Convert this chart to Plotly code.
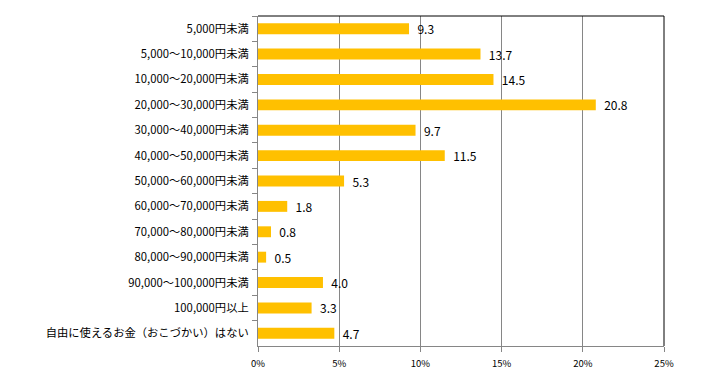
import plotly.graph_objects as go

categories = [
    "5,000円未満", "5,000～10,000円未満", "10,000～20,000円未満", "20,000～30,000円未満",
    "30,000～40,000円未満", "40,000～50,000円未満", "50,000～60,000円未満", "60,000～70,000円未満",
    "70,000～80,000円未満", "80,000～90,000円未満", "90,000～100,000円未満", "100,000円以上",
    "自由に使えるお金（おこづかい）はない",
]
values = [9.3, 13.7, 14.5, 20.8, 9.7, 11.5, 5.3, 1.8, 0.8, 0.5, 4.0, 3.3, 4.7]
x_ticks = [0, 5, 10, 15, 20, 25]
x_tick_labels = ["0%", "5%", "10%", "15%", "20%", "25%"]

font_jp = "Noto Sans CJK JP"

fig = go.Figure(go.Bar(
    x=values,
    y=categories,
    orientation="h",
    marker=dict(color="#FFC000", line=dict(width=0)),
    width=0.43,
    text=["  " + f"{v:.1f}" for v in values],
    textposition="outside",
    constraintext="none",
    cliponaxis=False,
    textfont=dict(family=font_jp, size=12, color="#000000"),
))

# page body has an 8px default margin, so the figure is sized/offset to compensate
fig.update_layout(
    width=705, height=368,
    margin=dict(l=250, r=49, t=8, b=30, autoexpand=False),
    paper_bgcolor="white", plot_bgcolor="white",
    showlegend=False,
    font=dict(family=font_jp, color="#000000"),
    shapes=[
        dict(type="line", xref="paper", yref="paper", x0=0, x1=1, y0=1, y1=1,
             line=dict(color="#000000", width=1)),
        dict(type="line", xref="paper", yref="paper", x0=1, x1=1, y0=0, y1=1,
             line=dict(color="#000000", width=1)),
    ],
)

fig.update_xaxes(
    range=[0, 25],
    tickvals=x_ticks, ticktext=x_tick_labels,
    showgrid=True, gridcolor="#868686", gridwidth=1,
    showline=True, linecolor="#868686", linewidth=1,
    ticks="outside", ticklen=5, tickcolor="#868686",
    tickfont=dict(family=font_jp, size=9.5, color="#000000"),
    ticklabelstandoff=4,
    zeroline=False, automargin=False,
    fixedrange=True,
)
fig.update_yaxes(
    autorange="reversed",
    showline=True, linecolor="#868686", linewidth=1,
    ticks="outside", ticklen=5, tickcolor="#868686",
    tickson="boundaries",
    tickfont=dict(family=font_jp, size=11.3, color="#000000"),
    ticklabelstandoff=6,
    showgrid=False, automargin=False,
)

fig.write_html("out.html")
